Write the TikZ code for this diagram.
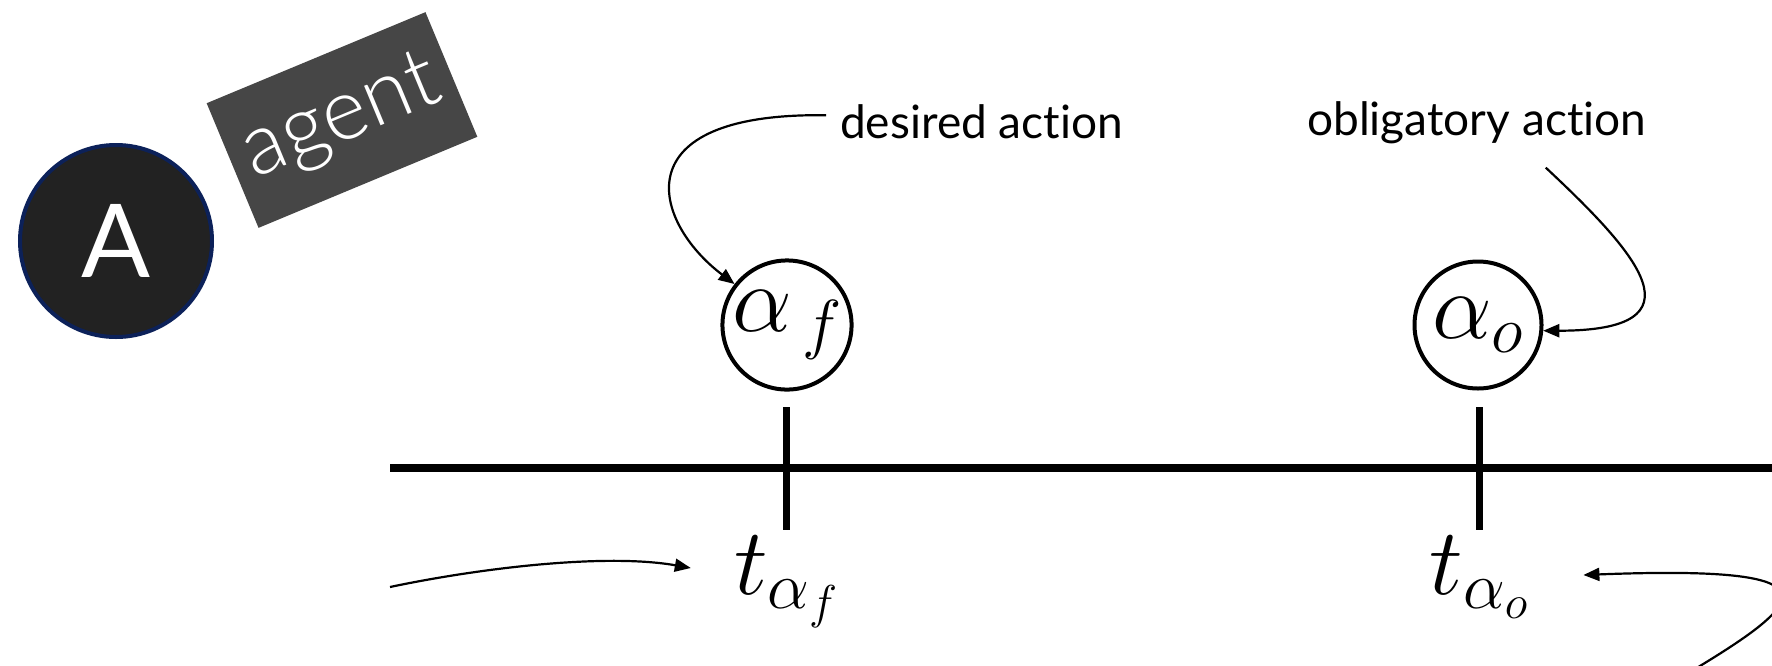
\documentclass[tikz,border=0pt]{standalone}
\usepackage{fix-cm}
\usepackage{fontspec}
\setmainfont{Lato}[Ligatures=NoCommon]
\newfontfamily\lightfont{Lato}[UprightFont=* Light, Ligatures=NoCommon]
\usetikzlibrary{arrows.meta,calc}
\definecolor{navy}{HTML}{0C2159}
\definecolor{dark}{HTML}{222222}
\definecolor{boxgray}{HTML}{464646}
\begin{document}
\begin{tikzpicture}[x=1pt,y=-1pt,
  ptr/.style={line width=2.2pt,-{Triangle[length=16pt,width=13pt]}},
  act/.style={circle,draw,line width=4pt,minimum size=127pt,inner sep=0pt,font=\fontsize{95}{100}\selectfont},
  tlab/.style={anchor=base,inner sep=0pt,font=\fontsize{95}{100}\selectfont},
  lab/.style={anchor=base west,inner sep=0pt,font=\fontsize{46}{50}\selectfont},
  axisline/.style={line width=8pt},
  tickline/.style={line width=7pt}]
\useasboundingbox (0,0) rectangle (1772,665);
\clip (0,0) rectangle (1772,665);

% agent badge
\node[circle, fill=dark, draw=navy, line width=4pt, minimum size=192pt, inner sep=0pt,
      text=white, font=\fontsize{102}{110}\selectfont] (agentA) at (116,241) {A};
\node[rectangle, fill=boxgray, minimum width=237pt, minimum height=135pt, rotate=22.6,
      text=white, font=\lightfont\fontsize{86}{90}\selectfont, inner sep=0pt] (agent) at (342,120) {\raisebox{-9pt}{agent}};

% labels
\node[lab] (da) at (840,138) {desired action};
\node[lab] (oa) at (1307,135) {obligatory action};

% actions
\node[act] (af) at (787,325) {$\alpha_{\,f}$};
\node[act] (ao) at (1478,325) {$\alpha_o$};

% time axis
\draw[axisline] (390,468) -- (1790,468);
\draw[tickline] (786,407) -- (786,530);
\draw[tickline] (1479,407) -- (1479,530);

\node[tlab] (taf) at (786,594) {$t_{\alpha_f}$};
\node[tlab] (tao) at (1479,594) {$t_{\alpha_o}$};

% connectors
\draw[ptr] ([xshift=-14pt,yshift=6pt]da.west) .. controls +(-206,-3) and +(-82,-62) .. (af.142);
\draw[ptr] ($(oa.south)+(69,24)$) .. controls +(93,87) and +(163,0) .. (ao.-5);

\coordinate (ls) at (390,587);
\draw[ptr] (ls) .. controls +(90,-19) and +(-85,-15) .. ($(taf.base west)+(-43,-26)$);

\coordinate (rs) at (1690,672);
\draw[ptr] (rs) .. controls +(120,-72) and +(260,-10) .. ($(tao.base east)+(55,-19)$);
\end{tikzpicture}
\end{document}
